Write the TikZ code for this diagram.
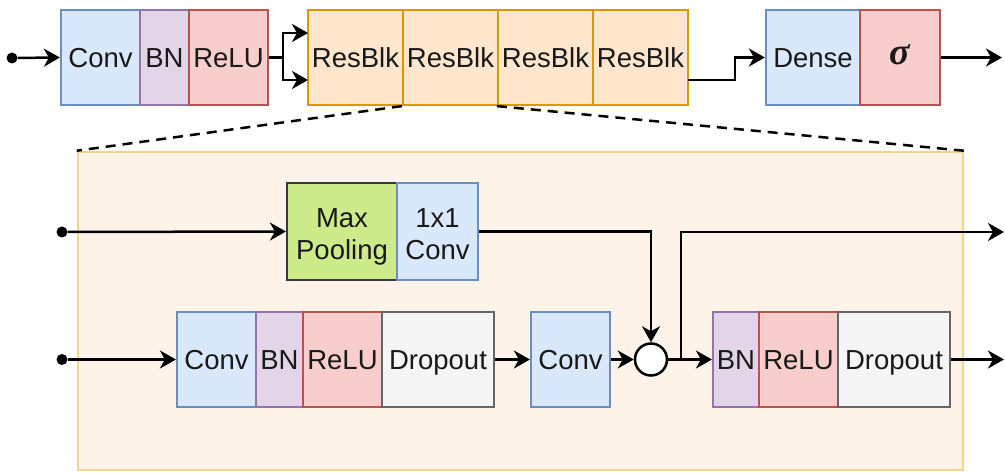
\documentclass[tikz,border=0pt]{standalone}
\usepackage{fontspec}
\setmainfont{Liberation Sans}
\newfontfamily\sigfont{Liberation Serif}
\usetikzlibrary{arrows.meta,positioning}
\definecolor{bluef}{HTML}{DAE8FC}\definecolor{blued}{HTML}{6C8EBF}
\definecolor{purpf}{HTML}{E1D5E7}\definecolor{purpd}{HTML}{9673A6}
\definecolor{redf}{HTML}{F8CECC}\definecolor{redd}{HTML}{B85450}
\definecolor{orf}{HTML}{FFE6CC}\definecolor{ord}{HTML}{D79B00}
\definecolor{grf}{HTML}{CDEB8B}\definecolor{grd}{HTML}{36393D}
\definecolor{gyf}{HTML}{F5F5F5}\definecolor{gyd}{HTML}{666666}
\definecolor{outf}{HTML}{FEF3E8}\definecolor{outd}{HTML}{F0D58C}
\tikzset{
  blk/.style={draw, line width=2.2pt, minimum height=95pt, inner sep=0pt, align=center,
    text height=20pt, text depth=0pt, text=black!90,
    font=\fontsize{27.5}{32}\selectfont},
  twoline/.style={text height=57pt, text depth=0pt},
  bluebox/.style={blk, fill=bluef, draw=blued},
  purpbox/.style={blk, fill=purpf, draw=purpd},
  redbox/.style={blk, fill=redf, draw=redd},
  orbox/.style={blk, fill=orf, draw=ord},
  grbox/.style={blk, fill=grf, draw=grd},
  gybox/.style={blk, fill=gyf, draw=gyd},
  arr/.style={line width=2.5pt, -{Stealth[length=16pt,width=18pt,inset=5pt]}},
  ln/.style={line width=2.5pt},
  dotm/.style={circle, fill=black, inner sep=0pt, minimum size=11pt},
}
\begin{document}
\begin{tikzpicture}[x=1pt,y=-1pt]
\useasboundingbox (0,0) rectangle (1005,473);
% detail box and dashed lines
\node[draw=outd, fill=outf, line width=2.5pt, minimum width=885pt, minimum height=318pt, inner sep=0pt] (detail) at (520.5,311) {};
% top row
\node[dotm] (in0) at (12,58) {};
\node[bluebox, minimum width=79pt] (conv0) at (100.5,57.5) {Conv};
\node[purpbox, minimum width=49pt] (bn0) at (164.5,57.5) {BN};
\node[redbox, minimum width=79pt] (relu0) at (228.5,57.5) {ReLU};
\node[orbox, minimum width=95pt] (rb1) at (355.5,57.5) {ResBlk};
\node[orbox, minimum width=95pt] (rb2) at (450.5,57.5) {ResBlk};
\node[orbox, minimum width=95pt] (rb3) at (545.5,57.5) {ResBlk};
\node[orbox, minimum width=95pt] (rb4) at (640.5,57.5) {ResBlk};
\node[bluebox, minimum width=94pt] (dense) at (813,57.5) {Dense};
\node[redbox, minimum width=80pt, text height=14pt] (sig) at (900,57.5) {{\fontsize{38}{40}\sigfont\bfseries\itshape σ}};
\draw[ln, dash pattern=on 10pt off 7pt] (rb2.south west) -- (detail.north west);
\draw[ln, dash pattern=on 10pt off 7pt] (rb3.south west) -- (detail.north east);
\draw[arr] (in0) -- (conv0.west);
\coordinate (fork) at (283,57.5);
\coordinate (rbin1) at (308,33);
\coordinate (rbin2) at (308,80);
\draw[ln] (relu0.east) -- (fork);
\draw[arr] (fork) |- (rbin1);
\draw[arr] (fork) |- (rbin2);
\coordinate (rbout) at (688,80);
\coordinate (bend) at (735,80);
\draw[arr] (rbout) -- (bend) |- (dense.west);
\coordinate (out0) at (1002,57.5);
\draw[arr] (sig.east) -- (out0);
% inner upper branch
\node[dotm] (in1) at (62,232) {};
\node[grbox, twoline, minimum width=110pt, minimum height=97pt] (mp) at (342,231.5) {Max\\Pooling};
\node[bluebox, twoline, minimum width=81pt, minimum height=97pt] (c11) at (437.5,231.5) {1x1\\Conv};
\draw[arr] (in1) -- (mp.west);
% inner lower row
\node[dotm] (in2) at (62,359.5) {};
\node[bluebox, minimum width=79pt] (conv1) at (216.5,359.5) {Conv};
\node[purpbox, minimum width=47pt] (bn1) at (279.5,359.5) {BN};
\node[redbox, minimum width=79pt] (relu1) at (342.5,359.5) {ReLU};
\node[gybox, minimum width=112pt] (drop1) at (438,359.5) {Dropout};
\node[bluebox, minimum width=79pt] (conv2) at (570.5,359.5) {Conv};
\node[draw, line width=2.5pt, circle, fill=white, minimum size=32pt, inner sep=0pt] (sum) at (651,359.5) {};
\node[purpbox, minimum width=46pt] (bn2) at (736,359.5) {BN};
\node[redbox, minimum width=79pt] (relu2) at (798.5,359.5) {ReLU};
\node[gybox, minimum width=112pt] (drop2) at (894,359.5) {Dropout};
\draw[arr] (in2) -- (conv1.west);
\draw[arr] (drop1.east) -- (conv2.west);
\draw[arr] (conv2.east) -- (sum.west);
\draw[arr] (c11.east) -| (sum.north);
\draw[arr] (sum.east) -- (bn2.west);
\coordinate (split) at (681,359.5);
\coordinate (out1) at (1004,232);
\coordinate (out2) at (1004,359.5);
\draw[arr] (split) |- (out1);
\draw[arr] (drop2.east) -- (out2);
\end{tikzpicture}
\end{document}
